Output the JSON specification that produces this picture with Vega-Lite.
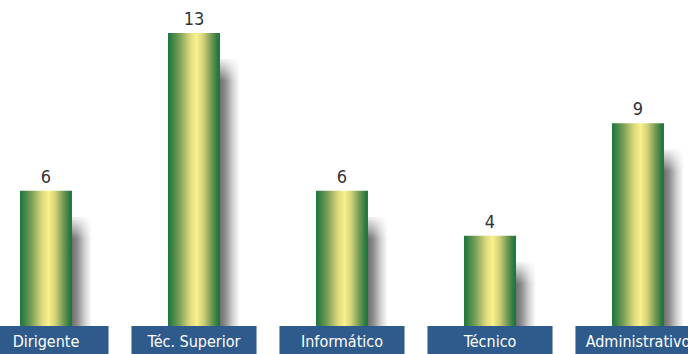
{
  "$schema": "https://vega.github.io/schema/vega-lite/v6.json",
  "width": 688,
  "height": 354,
  "padding": 0,
  "autosize": "none",
  "background": "white",
  "config": {"view": {"stroke": null}},
  "data": {"values": [
    {"cat": "Dirigente", "value": 6},
    {"cat": "Téc. Superior", "value": 13},
    {"cat": "Informático", "value": 6},
    {"cat": "Técnico", "value": 4},
    {"cat": "Administrativo", "value": 9}
  ]},
  "encoding": {
    "x": {"field": "cat", "type": "nominal", "sort": null, "axis": null,
          "scale": {"range": [-28, 712], "paddingInner": 0, "paddingOuter": 0}}
  },
  "layer": [
    {
      "mark": {"type": "bar", "width": {"band": 0.351}, "xOffset": 20, "yOffset": 26, "clip": false,
        "color": {"gradient": "linear", "x1": 0, "x2": 1, "y1": 0, "y2": 0,
          "stops": [{"offset": 0, "color": "#5a5a5a"}, {"offset": 0.6, "color": "#6a6a6a"}, {"offset": 0.72, "color": "#8e8e8e"}, {"offset": 0.86, "color": "#d0d0d0"}, {"offset": 1, "color": "#ffffff"}]}},
      "encoding": {
        "y": {"field": "value", "type": "quantitative", "axis": null, "scale": {"domain": [-1.242, 14.463], "nice": false, "zero": false}},
        "y2": {"datum": 0}
      }
    },
    {
      "mark": {"type": "bar", "width": {"band": 0.5}, "xOffset": 24, "yOffset": 24, "y2Offset": 48,
        "color": {"gradient": "linear", "x1": 0, "x2": 0, "y1": 0, "y2": 1,
          "stops": [{"offset": 0, "color": "rgba(255,255,255,1)"}, {"offset": 0.4, "color": "rgba(255,255,255,0.6)"}, {"offset": 1, "color": "rgba(255,255,255,0)"}]}},
      "encoding": {
        "y": {"field": "value", "type": "quantitative"},
        "y2": {"field": "value"}
      }
    },
    {
      "mark": {"type": "bar", "width": {"band": 0.351},
        "color": {"gradient": "linear", "x1": 0, "x2": 1, "y1": 0, "y2": 0,
          "stops": [{"offset": 0, "color": "#17773d"}, {"offset": 0.07, "color": "#3a8043"}, {"offset": 0.22, "color": "#7a9f58"}, {"offset": 0.42, "color": "#dcd97c"}, {"offset": 0.55, "color": "#faf08d"}, {"offset": 0.68, "color": "#d2d277"}, {"offset": 0.85, "color": "#6a9552"}, {"offset": 0.95, "color": "#2a7b40"}, {"offset": 1, "color": "#17773d"}]}},
      "encoding": {
        "y": {"field": "value", "type": "quantitative"},
        "y2": {"datum": 0}
      }
    },
    {
      "mark": {"type": "text", "baseline": "bottom", "dy": -4, "font": "DejaVu Sans Condensed, Roboto, sans-serif", "fontSize": 18, "color": "#333333"},
      "encoding": {
        "y": {"field": "value", "type": "quantitative"},
        "text": {"field": "value", "type": "quantitative"}
      }
    },
    {
      "mark": {"type": "bar", "width": {"band": 0.845}, "color": "#2e5a8c"},
      "encoding": {
        "y": {"datum": 0},
        "y2": {"datum": -1.3}
      }
    },
    {
      "mark": {"type": "text", "baseline": "middle", "font": "DejaVu Sans Condensed, Roboto, sans-serif", "fontSize": 16, "color": "white", "dy": 1},
      "encoding": {
        "y": {"datum": -0.66},
        "text": {"field": "cat", "type": "nominal"}
      }
    }
  ]
}
